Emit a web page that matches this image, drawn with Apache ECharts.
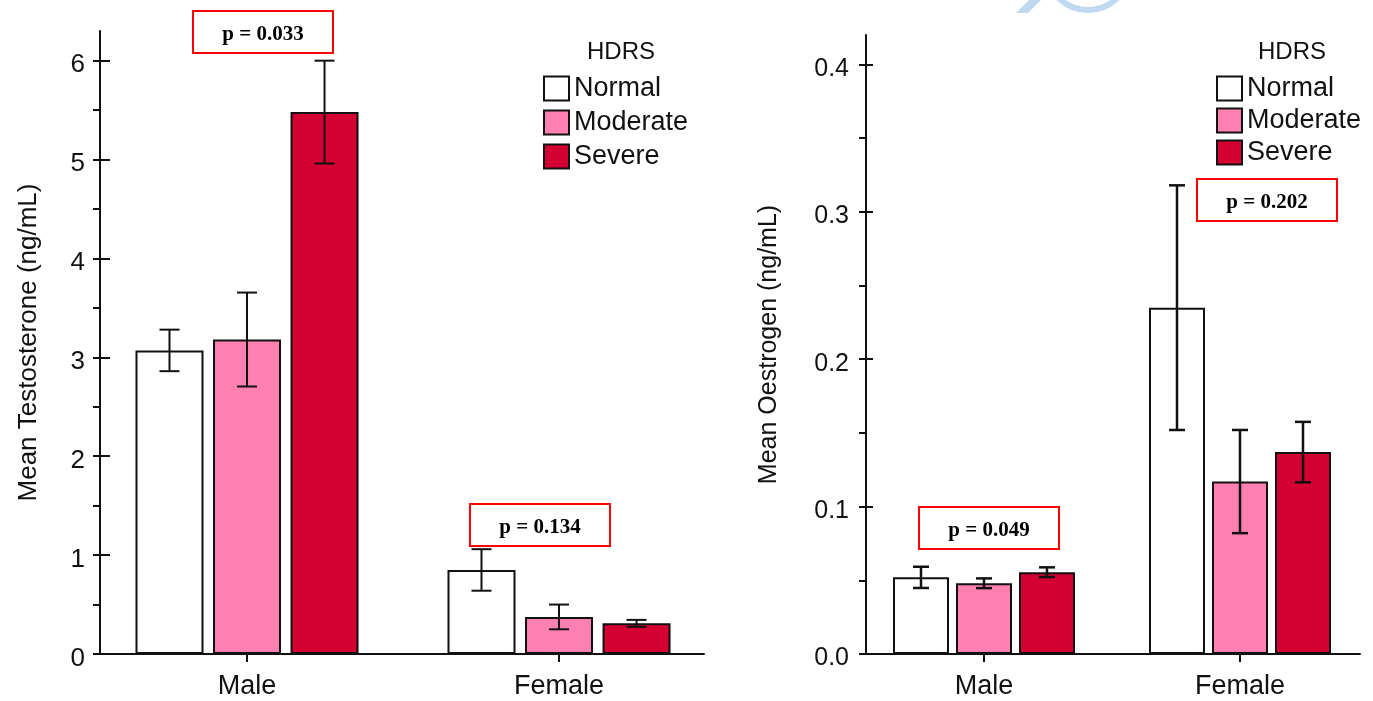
<!DOCTYPE html>
<html>
<head>
<meta charset="utf-8">
<title>Testosterone and Oestrogen by HDRS group</title>
<script src="https://cdn.jsdelivr.net/npm/echarts@6/dist/echarts.min.js"></script>
<style>
  html, body { margin: 0; padding: 0; background: #ffffff; }
  #chart { width: 1373px; height: 701px; }
</style>
</head>
<body>
<div id="chart"></div>
<script>
// Groups on the x axis and HDRS severity levels
const groups = ['Male', 'Female'];
const levels = ['Normal', 'Moderate', 'Severe'];

// Mean testosterone (ng/mL) and error half-widths, per level, [Male, Female]
const testoNormal = [3.07, 0.85];
const testoNormalErr = [0.21, 0.21];
const testoModerate = [3.18, 0.375];
const testoModerateErr = [0.475, 0.125];
const testoSevere = [5.48, 0.31];
const testoSevereErr = [0.52, 0.035];

// Mean oestrogen (ng/mL) and error half-widths, per level, [Male, Female]
const oestroNormal = [0.052, 0.235];
const oestroNormalErr = [0.0072, 0.083];
const oestroModerate = [0.048, 0.117];
const oestroModerateErr = [0.0033, 0.035];
const oestroSevere = [0.0555, 0.137];
const oestroSevereErr = [0.0033, 0.0205];

// Tick values
const testoTicks = [0, 1, 2, 3, 4, 5, 6];
const testoMinorTicks = [0.5, 1.5, 2.5, 3.5, 4.5, 5.5];
const oestroTicks = [0, 0.1, 0.2, 0.3, 0.4];
const oestroMinorTicks = [0.05, 0.15, 0.25, 0.35];

// Significance annotations
const testoPValues = ['p = 0.033', 'p = 0.134'];
const oestroPValues = ['p = 0.049', 'p = 0.202'];

const SANS = '"Liberation Sans", Arial, Helvetica, sans-serif';
const SERIF = '"Liberation Serif", "Times New Roman", serif';
const INK = '#111111';
const levelColors = ['#ffffff', '#ff80b1', '#d50032'];

const testoMeans = [testoNormal, testoModerate, testoSevere];
const testoErrs = [testoNormalErr, testoModerateErr, testoSevereErr];
const oestroMeans = [oestroNormal, oestroModerate, oestroSevere];
const oestroErrs = [oestroNormalErr, oestroModerateErr, oestroSevereErr];

// Panel layout (pixels)
const panels = [
  { grid: { left: 100, top: 31, width: 604, bottom: 47 },
    xMin: -0.4712, xMax: 1.4647, yMax: 6.3,
    barWidth: 68, barGap: 0.14, cap: 10, errWidth: 2,
    ticks: testoTicks, minor: testoMinorTicks, innerTick: 10,
    name: 'Mean Testosterone (ng/mL)', nameGap: 58, nameSize: 26,
    labelSize: 26, labelMargin: 15, fmt: v => String(v),
    means: testoMeans, errs: testoErrs },
  { grid: { left: 866, top: 35, width: 494, bottom: 47 },
    xMin: -0.4609, xMax: 1.46875, yMax: 0.42,
    barWidth: 56, barGap: 0.125, cap: 8, errWidth: 2.5,
    ticks: oestroTicks, minor: oestroMinorTicks, innerTick: 7,
    name: 'Mean Oestrogen (ng/mL)', nameGap: 84, nameSize: 25,
    labelSize: 25, labelMargin: 17, fmt: v => v.toFixed(1),
    means: oestroMeans, errs: oestroErrs }
];

function errorBars(offsetPx, capHalf, lw) {
  return function (params, api) {
    const x = api.value(0), m = api.value(1), e = api.value(2);
    const hi = api.coord([x, m + e]);
    const lo = api.coord([x, m - e]);
    const cx = hi[0] + offsetPx;
    const style = { stroke: INK, lineWidth: lw };
    return {
      type: 'group',
      children: [
        { type: 'line', shape: { x1: cx, y1: hi[1], x2: cx, y2: lo[1] }, style },
        { type: 'line', shape: { x1: cx - capHalf, y1: hi[1], x2: cx + capHalf, y2: hi[1] }, style },
        { type: 'line', shape: { x1: cx - capHalf, y1: lo[1], x2: cx + capHalf, y2: lo[1] }, style }
      ]
    };
  };
}

const grid = [], xAxis = [], yAxis = [], series = [];

panels.forEach((p, gi) => {
  grid.push(p.grid);
  const xMain = xAxis.length;
  // main x axis: line, outer ticks, category labels
  xAxis.push({
    type: 'value', gridIndex: gi, position: 'bottom', min: p.xMin, max: p.xMax,
    axisLine: { show: true, onZero: false, lineStyle: { color: INK, width: 2 } },
    axisTick: { show: true, customValues: [0, 1], length: 8, lineStyle: { color: INK, width: 2 } },
    axisLabel: { show: true, customValues: [0, 1], formatter: v => groups[Math.round(v)],
      fontSize: 27, fontFamily: SANS, color: INK, margin: 19 },
    splitLine: { show: false }
  });
  // inner half of the category ticks
  xAxis.push({
    type: 'value', gridIndex: gi, position: 'bottom', min: p.xMin, max: p.xMax,
    axisLine: { show: false, onZero: false },
    axisTick: { show: true, inside: true, customValues: [0, 1], length: 7, lineStyle: { color: INK, width: 2 } },
    axisLabel: { show: false }, splitLine: { show: false }
  });
  const yMain = yAxis.length;
  const outerTicks = p.ticks.concat(p.minor);
  yAxis.push({
    type: 'value', gridIndex: gi, position: 'left', min: 0, max: p.yMax,
    name: p.name, nameLocation: 'middle', nameGap: p.nameGap,
    nameTextStyle: { fontSize: p.nameSize, fontFamily: SANS, color: INK },
    axisLine: { show: true, onZero: false, lineStyle: { color: INK, width: 2 } },
    axisTick: { show: true, customValues: outerTicks, length: 7, lineStyle: { color: INK, width: 2 } },
    // labels sit slightly below their tick marks
    axisLabel: { show: true, customValues: p.ticks, formatter: p.fmt, fontSize: p.labelSize,
      fontFamily: SANS, color: INK, margin: p.labelMargin, verticalAlign: 'top', lineHeight: 9 },
    splitLine: { show: false }
  });
  // inner half of the major ticks
  yAxis.push({
    type: 'value', gridIndex: gi, position: 'left', min: 0, max: p.yMax,
    axisLine: { show: false, onZero: false },
    axisTick: { show: true, inside: true, customValues: p.ticks, length: p.innerTick, lineStyle: { color: INK, width: 2 } },
    axisLabel: { show: false }, splitLine: { show: false }
  });

  const pitch = p.barWidth * (1 + p.barGap);
  levels.forEach((lvl, li) => {
    series.push({
      type: 'bar', name: lvl, xAxisIndex: xMain, yAxisIndex: yMain,
      barWidth: p.barWidth, barGap: (p.barGap * 100) + '%',
      itemStyle: { color: levelColors[li], borderColor: INK, borderWidth: 2 },
      emphasis: { disabled: true },
      data: groups.map((g, i) => [i, p.means[li][i]])
    });
  });
  levels.forEach((lvl, li) => {
    series.push({
      type: 'custom', xAxisIndex: xMain, yAxisIndex: yMain, z: 5,
      renderItem: errorBars((li - 1) * pitch, p.cap, p.errWidth),
      encode: { x: 0, y: 1 },
      data: groups.map((g, i) => [i, p.means[li][i], p.errs[li][i]])
    });
  });
});

function legendFor(left, gap) {
  return {
    orient: 'vertical', left: left, top: 75, padding: 0, icon: 'rect',
    itemWidth: 25, itemHeight: 24, itemGap: gap, selectedMode: false,
    textStyle: { fontSize: 27, fontFamily: SANS, color: INK, padding: [3, 0, 0, 0] },
    data: levels.map((l, i) => ({ name: l, itemStyle: { color: levelColors[i], borderColor: INK, borderWidth: 2 } }))
  };
}

function pBox(left, top, label) {
  return {
    type: 'group', left: left, top: top, z: 50,
    children: [
      { type: 'rect', shape: { x: 0, y: 0, width: 140, height: 42 },
        style: { fill: '#ffffff', stroke: '#ff0000', lineWidth: 2 } },
      { type: 'text', x: 70, y: 24,
        style: { text: label, align: 'center', verticalAlign: 'middle',
          font: 'bold 21px ' + SERIF, fill: '#000000' } }
    ]
  };
}

const option = {
  backgroundColor: '#ffffff',
  animation: false,
  title: [
    { text: 'HDRS', left: 587, top: 40, padding: 0,
      textStyle: { fontSize: 24, fontWeight: 'normal', fontFamily: SANS, color: INK } },
    { text: 'HDRS', left: 1258, top: 40, padding: 0,
      textStyle: { fontSize: 24, fontWeight: 'normal', fontFamily: SANS, color: INK } }
  ],
  legend: [legendFor(543, 7), legendFor(1216, 5)],
  grid, xAxis, yAxis, series,
  graphic: [
    // faint logo fragment along the top edge
    { type: 'polygon', shape: { points: [[1016, 13], [1028, 13], [1041, 0], [1029, 0]] },
      style: { fill: '#bfd9f1' }, silent: true },
    { type: 'circle', shape: { cx: 1088, cy: -31.7, r: 41.7 },
      style: { fill: 'none', stroke: '#bfd9f1', lineWidth: 6 }, silent: true },
    pBox(192, 10, testoPValues[0]),
    pBox(469, 503, testoPValues[1]),
    pBox(918, 506, oestroPValues[0]),
    pBox(1196, 178, oestroPValues[1])
  ]
};

const chart = echarts.init(document.getElementById('chart'), null, { renderer: 'canvas' });
chart.setOption(option);
</script>
</body>
</html>
